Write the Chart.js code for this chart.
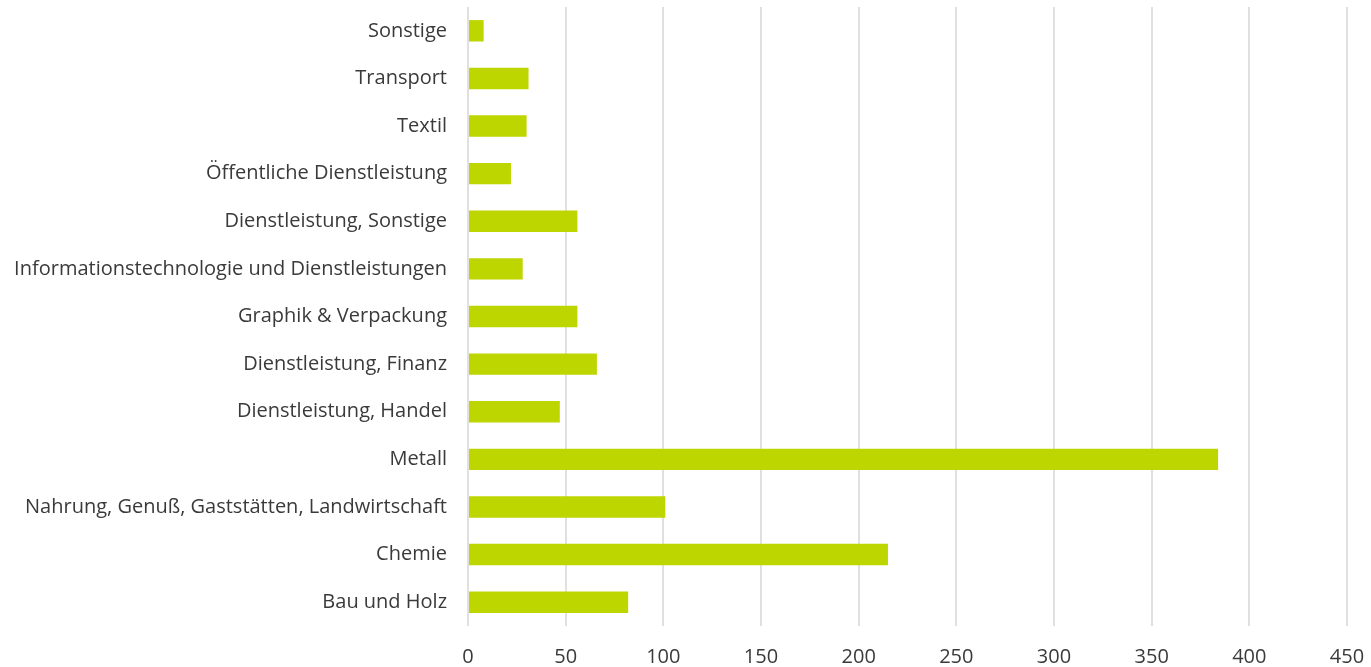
<!DOCTYPE html>
<html>
<head>
<meta charset="utf-8">
<script src="https://cdn.jsdelivr.net/npm/chart.js@4/dist/chart.umd.min.js"></script>
<style>
  html, body { margin: 0; padding: 0; background: #fff; }
  #wrap { width: 1371px; height: 667px; position: relative; }
</style>
</head>
<body>
<div id="wrap"><canvas id="branchChart"></canvas></div>
<script>
const categories = [
    'Sonstige',
    'Transport',
    'Textil',
    'Öffentliche Dienstleistung',
    'Dienstleistung, Sonstige',
    'Informationstechnologie und Dienstleistungen',
    'Graphik & Verpackung',
    'Dienstleistung, Finanz',
    'Dienstleistung, Handel',
    'Metall',
    'Nahrung, Genuß, Gaststätten, Landwirtschaft',
    'Chemie',
    'Bau und Holz'
];
const values = [8, 31, 30, 22, 56, 28, 56, 66, 47, 384, 101, 215, 82];
const xTicks = [0, 50, 100, 150, 200, 250, 300, 350, 400, 450];

const labelFont = { family: '"Open Sans", sans-serif', size: 20 };

const ctx = document.getElementById('branchChart').getContext('2d');

new Chart(ctx, {
    type: 'bar',
    data: {
        labels: categories,
        datasets: [{
            data: values,
            backgroundColor: '#bed600',
            borderWidth: 0,
            barPercentage: 0.45,
            categoryPercentage: 1.0,
        }]
    },
    options: {
        indexAxis: 'y',
        responsive: true,
        maintainAspectRatio: false,
        animation: false,
        layout: { padding: { top: 7, right: 24, bottom: 0, left: 0 } },
        plugins: {
            legend: { display: false },
            tooltip: { enabled: false }
        },
        scales: {
            x: {
                min: 0,
                max: 450,
                afterBuildTicks: (axis) => { axis.ticks = xTicks.map(v => ({ value: v })); },
                afterFit: (axis) => {
                    axis.height = 41;
                    axis.paddingLeft = 0;
                    axis.paddingRight = 0;
                },
                grid: { color: '#e0e0e0', lineWidth: 2, drawTicks: false },
                border: { display: false },
                ticks: {
                    color: '#3a3a3a',
                    font: labelFont,
                    padding: 19,
                }
            },
            y: {
                grid: { display: false, drawTicks: false },
                border: { display: false },
                afterFit: (axis) => {
                    axis.width = 468;
                    axis.paddingTop = 0;
                    axis.paddingBottom = 0;
                },
                ticks: {
                    color: '#3a3a3a',
                    font: labelFont,
                    padding: 21,
                    autoSkip: false,
                }
            }
        }
    }
});
</script>
</body>
</html>
